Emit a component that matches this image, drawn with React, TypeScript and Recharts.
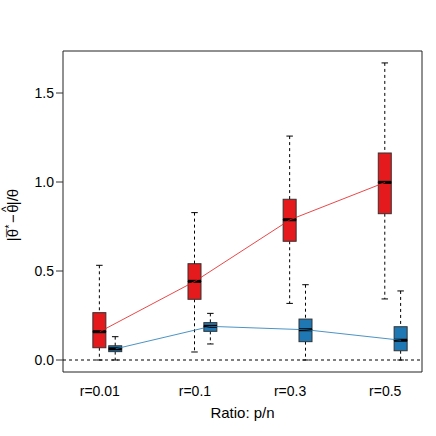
import {
  ComposedChart,
  Bar,
  Line,
  XAxis,
  YAxis,
  ReferenceLine,
  ReferenceArea,
} from "recharts";

// group labels on the x axis
const categories = ["r=0.01", "r=0.1", "r=0.3", "r=0.5"];

// red boxes: whisker low, Q1, median, Q3, whisker high
const redLow = [0.0, 0.045, 0.318, 0.343];
const redQ1 = [0.069, 0.341, 0.667, 0.822];
const redMed = [0.159, 0.442, 0.788, 0.998];
const redQ3 = [0.266, 0.541, 0.903, 1.163];
const redHigh = [0.532, 0.828, 1.258, 1.669];

// blue boxes
const blueLow = [0.0, 0.09, 0.0, 0.0];
const blueQ1 = [0.047, 0.161, 0.103, 0.052];
const blueMed = [0.063, 0.189, 0.17, 0.111];
const blueQ3 = [0.08, 0.21, 0.23, 0.187];
const blueHigh = [0.131, 0.262, 0.423, 0.388];

const yTicks = [0, 0.5, 1, 1.5];

const RED = "#E41A1C";
const BLUE = "#1F78B4";
const FONT = "'Liberation Sans', Arial, Helvetica, sans-serif";

const X_DOMAIN: [number, number] = [-0.66, 10.66];
const Y_DOMAIN: [number, number] = [-0.0674, 1.736];

type Row = {
  p: number;
  color: string;
  base: number;
  lw: number;
  bl: number;
  bu: number;
  uw: number;
  redMed?: number;
  blueMed?: number;
};

const makeRow = (
  p: number,
  color: string,
  low: number,
  q1: number,
  med: number,
  q3: number,
  high: number
): Row => ({
  p,
  color,
  base: low,
  lw: q1 - low,
  bl: med - q1,
  bu: q3 - med,
  uw: high - q3,
});

// each group: red box at 3i+0.5, blue box at 3i+1
const rows: Row[] = categories.flatMap((_, i) => [
  {
    ...makeRow(3 * i + 0.5, RED, redLow[i], redQ1[i], redMed[i], redQ3[i], redHigh[i]),
    redMed: redMed[i],
  },
  {
    ...makeRow(3 * i + 1, BLUE, blueLow[i], blueQ1[i], blueMed[i], blueQ3[i], blueHigh[i]),
    blueMed: blueMed[i],
  },
]);

const boxTicks = categories.flatMap((_, i) => [3 * i, 3 * i + 1]);
const labelTicks = categories.map((_, i) => 3 * i + 0.5);

const Empty = () => <g />;

const WhiskerLow = (props: any) => {
  const { x, y, width, height } = props;
  const cx = x + width / 2;
  return (
    <g>
      <line x1={cx} x2={cx} y1={y} y2={y + height} stroke="#000" strokeDasharray="3 3" />
      <line x1={cx - width / 4} x2={cx + width / 4} y1={y + height} y2={y + height} stroke="#000" />
    </g>
  );
};

const WhiskerHigh = (props: any) => {
  const { x, y, width, height } = props;
  const cx = x + width / 2;
  return (
    <g>
      <line x1={cx} x2={cx} y1={y} y2={y + height} stroke="#000" strokeDasharray="3 3" />
      <line x1={cx - width / 4} x2={cx + width / 4} y1={y} y2={y} stroke="#000" />
    </g>
  );
};

const BoxLower = (props: any) => {
  const { x, y, width, height, payload } = props;
  return <rect x={x} y={y} width={width} height={height} fill={payload.color} stroke="#333" />;
};

const BoxUpper = (props: any) => {
  const { x, y, width, height, payload } = props;
  return (
    <g>
      <rect x={x} y={y} width={width} height={height} fill={payload.color} stroke="#333" />
      <line x1={x} x2={x + width} y1={y + height} y2={y + height} stroke="#000" strokeWidth={3} />
    </g>
  );
};

// |θ̄* − θ̂|/θ built from tspans so the bar and hat sit over the thetas
const YLabel = () => (
  <text
    transform="translate(18,215) rotate(-90)"
    textAnchor="middle"
    fontSize={15}
    fontFamily={FONT}
    fill="#000"
  >
    <tspan>{"|\u03B8"}</tspan>
    <tspan dx={-8.2} dy={-1}>{"\u00AF"}</tspan>
    <tspan dx={0} dy={-4} fontSize={11}>*</tspan>
    <tspan dx={1.5} dy={5}>{"\u2212"}</tspan>
    <tspan dx={1.5}>{"\u03B8"}</tspan>
    <tspan dx={-7.6} dy={-8} fontSize={12}>^</tspan>
    <tspan dx={1.2} dy={8}>{"|/\u03B8"}</tspan>
  </text>
);

const XLabel = (props: any) => {
  const { viewBox } = props;
  return (
    <text
      x={viewBox.x + viewBox.width / 2}
      y={viewBox.y + 38}
      textAnchor="middle"
      fontSize={15}
      fontFamily={FONT}
      fill="#000"
    >
      Ratio: p/n
    </text>
  );
};

export default function App() {
  return (
    <div style={{ position: "absolute", left: 0, top: 0, background: "#fff" }}>
      <ComposedChart
        width={436}
        height={436}
        data={rows}
        margin={{ top: 51, right: 14, bottom: 0, left: 0 }}
        style={{ fontFamily: FONT }}
      >
        <XAxis
          xAxisId="box"
          type="number"
          dataKey="p"
          domain={X_DOMAIN}
          allowDataOverflow
          ticks={boxTicks}
          tick={false}
          tickSize={7}
          axisLine={false}
          tickLine={{ stroke: "#333" }}
          height={8}
        />
        <XAxis
          xAxisId="lab"
          type="number"
          dataKey="p"
          domain={X_DOMAIN}
          allowDataOverflow
          ticks={labelTicks}
          tickFormatter={(v: number) => categories[Math.round((v - 0.5) / 3)] ?? ""}
          tick={{ fontSize: 14, fill: "#000" }}
          tickSize={0}
          tickMargin={6}
          tickLine={false}
          axisLine={false}
          height={56}
          label={(p: any) => <XLabel {...p} />}
        />
        <YAxis
          type="number"
          domain={Y_DOMAIN}
          allowDataOverflow
          ticks={yTicks}
          tickFormatter={(v: number) => v.toFixed(1)}
          tick={{ fontSize: 14, fill: "#000" }}
          tickSize={7}
          tickLine={{ stroke: "#333" }}
          axisLine={false}
          width={63}
          label={() => <YLabel />}
        />
        <ReferenceArea
          xAxisId="box"
          x1={X_DOMAIN[0]}
          x2={X_DOMAIN[1]}
          y1={Y_DOMAIN[0]}
          y2={Y_DOMAIN[1]}
          fill="none"
          stroke="#222"
          strokeWidth={1}
          fillOpacity={0}
        />
        <ReferenceLine xAxisId="box" y={0} stroke="#000" strokeDasharray="3 3" />
        <Line
          xAxisId="box"
          dataKey="redMed"
          stroke={RED}
          strokeOpacity={0.8}
          strokeWidth={1}
          dot={false}
          connectNulls
          isAnimationActive={false}
        />
        <Line
          xAxisId="box"
          dataKey="blueMed"
          stroke={BLUE}
          strokeOpacity={0.8}
          strokeWidth={1}
          dot={false}
          connectNulls
          isAnimationActive={false}
        />
        <Bar xAxisId="box" dataKey="base" stackId="b" barSize={13} shape={Empty} isAnimationActive={false} />
        <Bar xAxisId="box" dataKey="lw" stackId="b" barSize={13} shape={WhiskerLow} isAnimationActive={false} />
        <Bar xAxisId="box" dataKey="bl" stackId="b" barSize={13} shape={BoxLower} isAnimationActive={false} />
        <Bar xAxisId="box" dataKey="bu" stackId="b" barSize={13} shape={BoxUpper} isAnimationActive={false} />
        <Bar xAxisId="box" dataKey="uw" stackId="b" barSize={13} shape={WhiskerHigh} isAnimationActive={false} />
      </ComposedChart>
    </div>
  );
}
